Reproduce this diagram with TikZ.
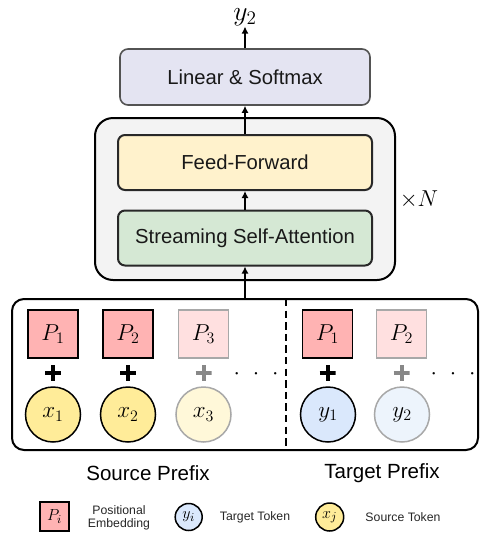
\documentclass[tikz,border=0pt]{standalone}
\usepackage{fontspec}
\setmainfont{Liberation Sans}
\usetikzlibrary{arrows.meta}
\def\pxl{0.75pt}
\definecolor{lavfill}{RGB}{228,228,242}
\definecolor{outfill}{RGB}{243,243,243}
\definecolor{fffill}{RGB}{255,242,204}
\definecolor{ssafill}{RGB}{213,232,212}
\definecolor{pdark}{RGB}{255,179,179}
\definecolor{plight}{RGB}{255,224,224}
\definecolor{xdark}{RGB}{255,236,153}
\definecolor{xlight}{RGB}{255,248,217}
\definecolor{ydark}{RGB}{218,232,252}
\definecolor{ylight}{RGB}{237,244,252}
\definecolor{lgray}{RGB}{168,168,168}
\definecolor{pgray}{RGB}{136,136,136}
\definecolor{boxline}{RGB}{40,40,40}
\tikzset{
  blk/.style={draw=boxline, line width=2*\pxl, rounded corners=7*\pxl, minimum width=254*\pxl, minimum height=55*\pxl, font=\fontsize{15.2}{18}\selectfont, text=black!90},
  pbox/.style={draw=black, line width=1.5*\pxl, fill=pdark, minimum width=50*\pxl, minimum height=48*\pxl, inner sep=0pt, font=\fontsize{18.5}{22}\selectfont},
  pboxl/.style={pbox, draw=lgray, fill=plight},
  tok/.style={circle, draw=black, line width=1.5*\pxl, minimum size=55*\pxl, inner sep=0pt, font=\fontsize{18.5}{22}\selectfont},
  tokl/.style={tok, draw=lgray},
  plus/.style={minimum size=16*\pxl, inner sep=0pt, path picture={\draw[line width=4*\pxl, #1] (path picture bounding box.north) -- (path picture bounding box.south) (path picture bounding box.west) -- (path picture bounding box.east);}},
  plus/.default=black,
  arr/.style={-{Latex[length=7*\pxl, width=7*\pxl]}, line width=1.3*\pxl},
  lbl/.style={font=\fontsize{15.4}{18}\selectfont},
  leg/.style={font=\fontsize{9.2}{9.8}\selectfont, align=center, text=black!85},
  legm/.style={font=\fontsize{13}{15}\selectfont},
  dotsn/.style={font=\fontsize{17}{20}\selectfont, inner sep=0pt}
}
\begin{document}
\begin{tikzpicture}[x=\pxl, y=-\pxl]
\useasboundingbox (0,0) rectangle (492,540);
% top
\node[blk, fill=lavfill, draw=boxline!80, line width=1.6*\pxl, minimum width=250*\pxl, minimum height=56*\pxl, rounded corners=8*\pxl] (lin) at (245,77) {Linear \& Softmax};
\node[font=\fontsize{19.5}{22}\selectfont, inner sep=0.5pt] (y2out) at (245,17) {$y_2$};
\draw[arr] (lin.north) -- (y2out.south);
% outer block
\node[draw=black, line width=2*\pxl, fill=outfill, rounded corners=18*\pxl, minimum width=300*\pxl, minimum height=162*\pxl] (outer) at (245,199) {};
\node[blk, fill=fffill] (ff) at (245,162.5) {Feed-Forward};
\node[blk, fill=ssafill] (ssa) at (245,238) {Streaming Self-Attention};
\node[font=\fontsize{17.5}{20}\selectfont] (times) at (419,200) {$\times N$};
\draw[arr] (ff.north) -- (lin.south);
\draw[arr] (ssa.north) -- (ff.south);
% bottom box
\node[draw=black, line width=2*\pxl, rounded corners=12*\pxl, minimum width=466*\pxl, minimum height=151*\pxl] (bot) at (245,374.5) {};
\draw[arr] (bot.north) -- (ssa.south);
\coordinate (dtop) at (286,299);
\coordinate (dbot) at (286,450);
\draw[line width=2.2*\pxl, dash pattern=on 5.5pt off 3.2pt] (dtop) -- (dbot);
% source
\node[pbox] (sp1) at (53,334) {$P_1$};
\node[pbox] (sp2) at (128,334) {$P_2$};
\node[pboxl] (sp3) at (203.5,334) {$P_3$};
\node[plus] (spl1) at (53,373) {};
\node[plus] (spl2) at (128,373) {};
\node[plus=pgray] (spl3) at (203.5,373) {};
\node[tok, fill=xdark] (x1) at (53,414.5) {$x_1$};
\node[tok, fill=xdark] (x2) at (128,414.5) {$x_2$};
\node[tokl, fill=xlight] (x3) at (203.5,414.5) {$x_3$};
\node[dotsn] (sdots) at (256,374) {$\cdot\hspace{5.8pt}\cdot\hspace{5.8pt}\cdot$};
% target
\node[pbox] (tp1) at (327.5,334) {$P_1$};
\node[pboxl] (tp2) at (401.5,334) {$P_2$};
\node[plus] (tpl1) at (327.5,373) {};
\node[plus=pgray] (tpl2) at (401.5,373) {};
\node[tok, fill=ydark] (y1) at (328,414.5) {$y_1$};
\node[tokl, fill=ylight] (y2) at (402,414.5) {$y_2$};
\node[dotsn] (tdots) at (453,374) {$\cdot\hspace{5.8pt}\cdot\hspace{5.8pt}\cdot$};
% labels
\node[lbl] (srcl) at (148,473) {Source Prefix};
\node[lbl] (tgtl) at (382,473) {Target Prefix};
% legend
\node[pbox, minimum width=29*\pxl, minimum height=29*\pxl, legm] (lp) at (54.5,516.5) {$P_i$};
\node[leg] (lpt) at (119,517.5) {Positional\\Embedding};
\node[tok, fill=ydark, minimum size=27*\pxl, legm] (ly) at (188.7,517) {$y_i$};
\node[leg] (lyt) at (255,517) {Target Token};
\node[tok, fill=xdark, minimum size=28*\pxl, legm] (lx) at (329.7,517) {$x_j$};
\node[leg] (lxt) at (403,517) {Source Token};
\end{tikzpicture}
\end{document}
